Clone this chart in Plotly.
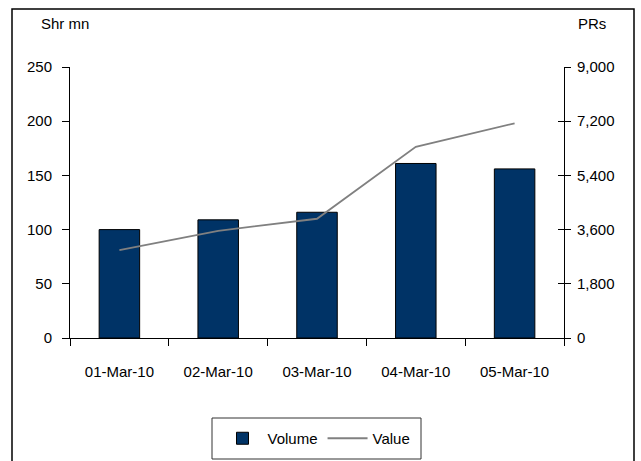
import plotly.graph_objects as go

dates = ["01-Mar-10", "02-Mar-10", "03-Mar-10", "04-Mar-10", "05-Mar-10"]
volume = [100, 109, 116, 161, 156]
value = [2920, 3560, 3960, 6350, 7130]
left_ticks = [0, 50, 100, 150, 200, 250]
right_ticks = [0, 1800, 3600, 5400, 7200, 9000]

FONT = "Liberation Sans, Arial, sans-serif"
FS = 15

fig = go.Figure()
fig.add_trace(go.Bar(x=dates, y=volume, name="Volume", marker=dict(color="#003366", line=dict(color="#000000", width=1)), width=0.41, yaxis="y"))
fig.add_trace(go.Scatter(x=dates, y=value, name="Value", mode="lines", line=dict(color="#808080", width=1.8), yaxis="y2"))
# overlay axis used only for the inward half of the right axis tick marks
fig.add_trace(go.Scatter(x=dates, y=value, mode="lines", line=dict(width=0), showlegend=False, hoverinfo="skip", yaxis="y3", opacity=0))

PW, PH, L, T = 494, 271, 70, 67
def px(x):
    return (x - L) / PW
def py(y):
    return (T + PH - y) / PH

fig.update_layout(
    width=641, height=461,
    margin=dict(l=70, r=77, t=67, b=123, autoexpand=False),
    paper_bgcolor="white", plot_bgcolor="white",
    font=dict(family=FONT, size=FS, color="#000000"),
    showlegend=True,
    legend=dict(orientation="h", x=px(316.5), xanchor="center", y=py(438.5), yanchor="middle",
                borderwidth=0, bgcolor="rgba(0,0,0,0)", font=dict(size=FS), itemwidth=40, traceorder="normal"),
    xaxis=dict(type="category", showline=True, linecolor="#000000", linewidth=1, ticks="outside", ticklen=7,
               tickcolor="#000000", tickson="boundaries", showgrid=False, ticklabelstandoff=20, zeroline=False,
               automargin=False),
    yaxis=dict(range=[0, 250], tickvals=left_ticks, showline=True, linecolor="#000000", linewidth=1,
               ticks="outside", ticklen=7, tickcolor="#000000", showgrid=False, zeroline=False, ticklabelstandoff=7,
               automargin=False),
    yaxis2=dict(range=[0, 9000], tickvals=right_ticks, tickformat=",", overlaying="y", side="right", anchor="x",
                showline=True, linecolor="#000000", linewidth=1, ticks="outside", ticklen=6, tickcolor="#000000",
                showgrid=False, zeroline=False, ticklabelstandoff=3, automargin=False),
    yaxis3=dict(range=[0, 9000], tickvals=right_ticks, overlaying="y", side="right", anchor="x",
                showline=False, ticks="inside", ticklen=6, tickcolor="#000000", showticklabels=False,
                showgrid=False, zeroline=False, automargin=False),
    bargap=0.59,
    annotations=[
        dict(text="Shr mn", xref="paper", yref="paper", x=px(39), y=py(24),
             xanchor="left", yanchor="middle", showarrow=False, font=dict(size=FS)),
        dict(text="PRs", xref="paper", yref="paper", x=px(608), y=py(24),
             xanchor="right", yanchor="middle", showarrow=False, font=dict(size=FS)),
    ],
    shapes=[
        dict(type="rect", xref="paper", yref="paper", x0=px(12), x1=px(634),
             y0=py(470), y1=py(9), line=dict(color="#000000", width=1.5), layer="below"),
        dict(type="rect", xref="paper", yref="paper", x0=px(212), x1=px(421),
             y0=py(459), y1=py(418), line=dict(color="#333333", width=1), layer="below"),
    ],
)

fig.write_html("out.html")
